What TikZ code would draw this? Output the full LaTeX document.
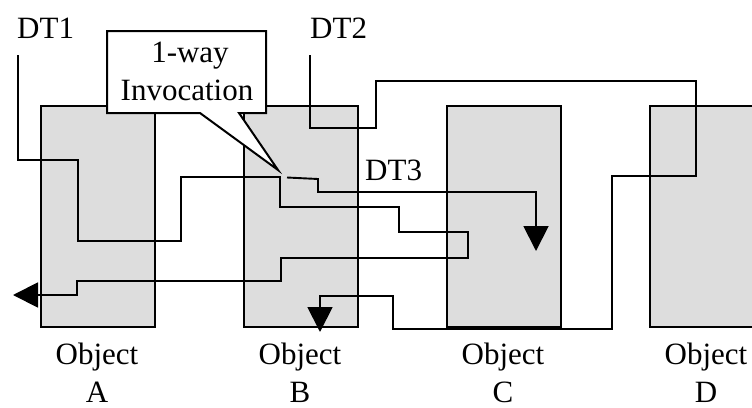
\documentclass[tikz,border=0pt]{standalone}
\usepackage{fontspec}
\setmainfont{Liberation Serif}
\usetikzlibrary{arrows.meta}
\definecolor{objgray}{RGB}{221,221,221}
\begin{document}
\begin{tikzpicture}[x=1pt,y=-1pt,
  objbox/.style={draw=black, fill=objgray, line width=2pt, minimum width=114pt, minimum height=221pt, inner sep=0pt, anchor=north west},
  lbl/.style={font=\fontsize{31}{37}\selectfont, inner sep=0pt, anchor=base},
  lblw/.style={lbl, anchor=base west},
  conn/.style={line width=1.9pt, line join=miter},
  arr/.style={conn, -{Triangle[length=25pt,width=25pt]}},
  callout/.style={draw=black, fill=white, line width=2pt, line join=miter}
]
\clip (0,0) rectangle (752,407);
\fill[white] (0,0) rectangle (752,407);
% objects
\node[objbox] (A) at (39.5,104.5) {};
\node[objbox] (B) at (243,104.5) {};
\node[objbox] (C) at (446,104.5) {};
\node[objbox] (D) at (649,104.5) {};
% labels
\node[lbl] (Aobj) at (97,364.5) {Object};
\node[lbl] (Aname) at (97,402) {A};
\node[lbl] (Bobj) at (300,364.5) {Object};
\node[lbl] (Bname) at (300,402) {B};
\node[lbl] (Cobj) at (503,364.5) {Object};
\node[lbl] (Cname) at (503,402) {C};
\node[lbl] (Dobj) at (706,364.5) {Object};
\node[lbl] (Dname) at (706,402) {D};
% thread labels
\node[lblw] (DT1) at (17,38) {DT1};
\node[lblw] (DT2) at (310,38) {DT2};
\node[lblw] (DT3) at (365,180) {DT3};
% connector end points
\coordinate (s1) at (18,55);
\coordinate (e1) at (13,295);
\coordinate (s2) at (310,55);
\coordinate (e2) at (320,332);
\coordinate (s3) at (287,177.5);
\coordinate (e3) at (536,251);
% DT1
\draw[arr] (s1) -- (18,160) -- (78,160) -- (78,241) -- (181,241) -- (181,177) -- (280,177) -- (280,207) -- (399,207) -- (399,232) -- (468,232) -- (468,258) -- (281,258) -- (281,281) -- (77,281) -- (77,295) -- (e1);
% DT2
\draw[arr] (s2) -- (310,128) -- (376,128) -- (376,81) -- (696,81) -- (696,176) -- (612,176) -- (612,329) -- (393,329) -- (393,296) -- (320,296) -- (e2);
% DT3
\draw[arr] (s3) -- (318,179) -- (318,192) -- (536,192) -- (e3);
% callout
\draw[callout] (107,31) -- (266,31) -- (266,113) -- (239,113) -- (278,170) -- (200,113) -- (107,113) -- cycle;
\node[lbl] (inv1) at (190,62) {1-way};
\node[lbl] (inv2) at (187,100) {Invocation};
\end{tikzpicture}
\end{document}
